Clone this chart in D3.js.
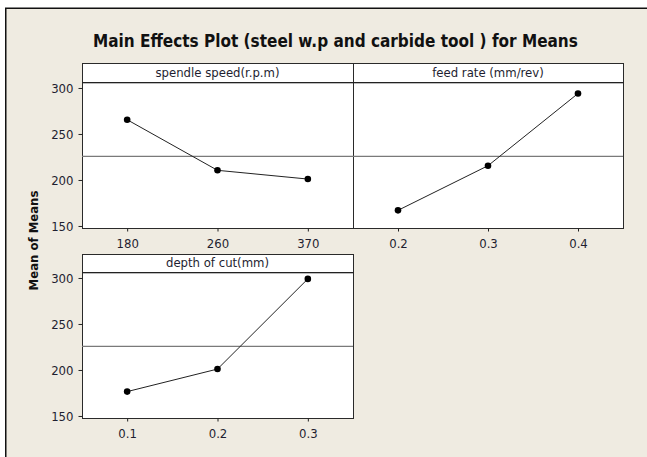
<!DOCTYPE html>
<html><head><meta charset="utf-8">
<script src="https://cdnjs.cloudflare.com/ajax/libs/d3/7.8.5/d3.min.js"></script>
<style>
html,body{margin:0;padding:0;background:#fff;overflow:hidden;}
svg{display:block;}
text{font-family:'DejaVu Sans Condensed','DejaVu Sans',sans-serif;fill:#1e1e30;}
</style></head>
<body>
<script>
// ---- data ----
const title = "Main Effects Plot (steel w.p and carbide tool ) for Means";
const yLabel = "Mean of Means";
const factors = ["spendle speed(r.p.m)", "feed rate (mm/rev)", "depth of cut(mm)"];
const speedLevels = ["180", "260", "370"];
const speedMeans = [265.5, 210.5, 201];
const feedLevels = ["0.2", "0.3", "0.4"];
const feedMeans = [167, 215.5, 294];
const depthLevels = ["0.1", "0.2", "0.3"];
const depthMeans = [176.5, 201, 299];
const grandMean = 225.6;
const yTicks = [150, 200, 250, 300];
const yDomain = [147.8, 306.5];

const W = 647, H = 457;
const svg = d3.select("body").append("svg").attr("width", W).attr("height", H);

svg.append("rect").attr("x", 0).attr("y", 0).attr("width", W).attr("height", H).attr("fill", "#fff");
svg.append("rect").attr("x", 5.5).attr("y", 8.5).attr("width", W - 5.5).attr("height", H - 8.5).attr("fill", "#efebe1");
svg.append("line").attr("x1", 5.75).attr("x2", 5.75).attr("y1", 8).attr("y2", H).attr("stroke", "#111").attr("stroke-width", 1.5);
svg.append("line").attr("x1", 5).attr("x2", W).attr("y1", 8.25).attr("y2", 8.25).attr("stroke", "#111").attr("stroke-width", 1.5);

svg.append("text").attr("x", 93).attr("y", 47).attr("font-size", 17).attr("font-weight", "bold")
  .style("fill", "#111").text(title);

svg.append("text").attr("transform", "translate(38,240.5) rotate(-90)").attr("text-anchor", "middle")
  .attr("font-size", 13).attr("font-weight", "bold").style("fill", "#111").text(yLabel);

const panels = [
  {name: factors[0], levels: speedLevels, means: speedMeans, x0: 82, x1: 353, st: 63, sb: 82, b: 228, yaxis: true},
  {name: factors[1], levels: feedLevels, means: feedMeans, x0: 353, x1: 623, st: 63, sb: 82, b: 228, yaxis: false},
  {name: factors[2], levels: depthLevels, means: depthMeans, x0: 82, x1: 353, st: 254, sb: 272, b: 418, yaxis: true}
];

panels.forEach(p => {
  const g = svg.append("g");
  const x = d3.scalePoint().domain(p.levels).range([p.x0, p.x1]).padding(0.5);
  const y = d3.scaleLinear().domain(yDomain).range([p.b, p.sb]);
  g.append("rect").attr("x", p.x0 + 0.5).attr("y", p.st + 0.5).attr("width", p.x1 - p.x0).attr("height", p.b - p.st)
    .attr("fill", "#fff").attr("stroke", "#2a2a2a").attr("stroke-width", 1);
  g.append("line").attr("x1", p.x0).attr("x2", p.x1 + 1).attr("y1", p.sb + 0.5).attr("y2", p.sb + 0.5)
    .attr("stroke", "#222").attr("stroke-width", 1);
  g.append("line").attr("x1", p.x0 + 1).attr("x2", p.x1).attr("y1", p.sb + 1.5).attr("y2", p.sb + 1.5)
    .attr("stroke", "#bbb").attr("stroke-width", 1);
  g.append("text").attr("x", (p.x0 + p.x1) / 2).attr("y", p.sb - 5).attr("text-anchor", "middle")
    .attr("font-size", 13).text(p.name);
  g.append("line").attr("x1", p.x0).attr("x2", p.x1).attr("y1", y(grandMean)).attr("y2", y(grandMean))
    .attr("stroke", "#7a7a7a").attr("stroke-width", 1.3);
  const xa = g.append("g").attr("transform", `translate(0,${p.b + 0.5})`)
    .call(d3.axisBottom(x).tickSize(3).tickPadding(7));
  xa.select(".domain").remove();
  xa.selectAll("line").attr("stroke", "#222");
  xa.selectAll("text").attr("font-size", 13).attr("font-family", null).style("fill", "#1e1e30");
  if (p.yaxis) {
    const ya = g.append("g").attr("transform", `translate(${p.x0 + 0.5},0)`)
      .call(d3.axisLeft(y).tickValues(yTicks).tickSize(4).tickPadding(5));
    ya.select(".domain").remove();
    ya.selectAll("line").attr("stroke", "#222");
    ya.selectAll("text").attr("font-size", 13).attr("font-family", null).style("fill", "#1e1e30");
  }
  const pts = p.levels.map((l, i) => [x(l), y(p.means[i])]);
  g.append("path").attr("d", d3.line()(pts)).attr("fill", "none").attr("stroke", "#222").attr("stroke-width", 1);
  g.selectAll("circle.pt").data(pts).join("circle").attr("class", "pt")
    .attr("cx", d => d[0]).attr("cy", d => d[1]).attr("r", 3.3).attr("fill", "#000");
});
</script>
</body></html>
